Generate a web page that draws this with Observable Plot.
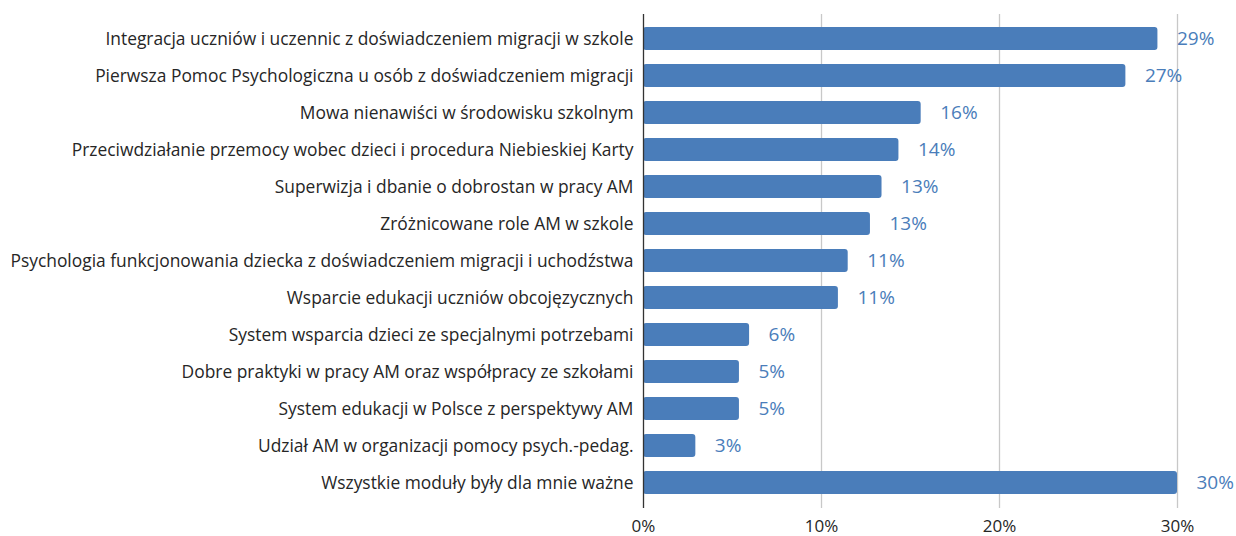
<!DOCTYPE html>
<html>
<head>
<meta charset="utf-8">
<script src="https://cdn.jsdelivr.net/npm/d3@7"></script>
<script src="https://cdn.jsdelivr.net/npm/@observablehq/plot@0.6"></script>
<style>
  html, body { margin: 0; padding: 0; background: #fff; }
  #chart svg { display: block; }
</style>
</head>
<body>
<div id="chart"></div>
<script>
const categories = [
  "Integracja uczniów i uczennic z doświadczeniem migracji w szkole",
  "Pierwsza Pomoc Psychologiczna u osób z doświadczeniem migracji",
  "Mowa nienawiści w środowisku szkolnym",
  "Przeciwdziałanie przemocy wobec dzieci i procedura Niebieskiej Karty",
  "Superwizja i dbanie o dobrostan w pracy AM",
  "Zróżnicowane role AM w szkole",
  "Psychologia funkcjonowania dziecka z doświadczeniem migracji i uchodźstwa",
  "Wsparcie edukacji uczniów obcojęzycznych",
  "System wsparcia dzieci ze specjalnymi potrzebami",
  "Dobre praktyki w pracy AM oraz współpracy ze szkołami",
  "System edukacji w Polsce z perspektywy AM",
  "Udział AM w organizacji pomocy psych.-pedag.",
  "Wszystkie moduły były dla mnie ważne"
];
const values = [28.9, 27.1, 15.6, 14.35, 13.4, 12.75, 11.5, 10.95, 5.96, 5.39, 5.39, 2.94, 30.0];
const valueLabels = ["29%", "27%", "16%", "14%", "13%", "13%", "11%", "11%", "6%", "5%", "5%", "3%", "30%"];
const xTicks = [0, 10, 20, 30];

const data = categories.map((c, i) => ({category: c, value: values[i], label: valueLabels[i]}));

const chart = Plot.plot({
  width: 1236,
  height: 536,
  marginLeft: 643,
  marginRight: 59,
  marginTop: 14,
  marginBottom: 28,
  style: {fontFamily: "'Open Sans', sans-serif", fontSize: "16px", color: "#262626", background: "#fff", overflow: "visible"},
  x: {domain: [0, 30], ticks: xTicks, tickFormat: d => d + "%", label: null},
  y: {domain: categories, label: null, paddingInner: 0.373, paddingOuter: 0.335},
  marks: [
    Plot.gridX(xTicks.filter(t => t > 0), {stroke: "#c8c8c8", strokeOpacity: 1, strokeWidth: 1.3}),
    Plot.barX(data, {x: "value", y: "category", fill: "#4a7dba", rx: 3}),
    Plot.ruleX([0], {stroke: "#333", strokeWidth: 1.3}),
    Plot.text(data, {x: "value", y: "category", text: "label", textAnchor: "start", dx: 19, fill: "#4a7dba", fontSize: 19}),
    Plot.axisY({tickSize: 0, tickPadding: 10, fontSize: 17.4, label: null}),
    Plot.axisX({ticks: xTicks, tickFormat: d => d + "%", tickSize: 0, tickPadding: 11, fontSize: 17, label: null})
  ]
});
document.getElementById("chart").appendChild(chart);
</script>
</body>
</html>
